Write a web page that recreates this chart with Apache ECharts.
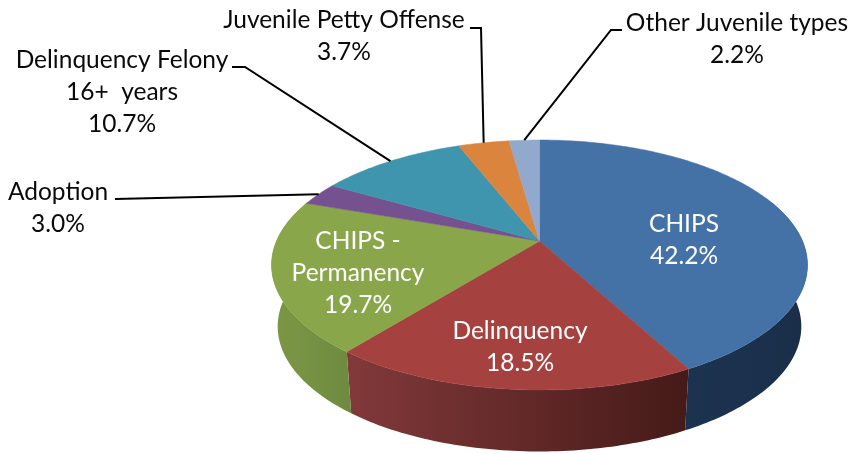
<!DOCTYPE html>
<html>
<head>
<meta charset="utf-8">
<script src="https://cdn.jsdelivr.net/npm/echarts@6/dist/echarts.min.js"></script>
<style>
html, body {margin: 0; padding: 0; background: #fff;}
#main {width: 850px; height: 454px;}
</style>
</head>
<body>
<div id="main"></div>
<script>
// chart data, clockwise from 12 o'clock
const categories = ['CHIPS', 'Delinquency', 'CHIPS -\nPermanency', 'Adoption',
    'Delinquency Felony\n16+  years', 'Juvenile Petty Offense', 'Other Juvenile types'];
const shares = [42.2, 18.5, 19.7, 3.0, 10.7, 3.7, 2.2];

const topColors = ['#4471a6', '#a5423f', '#8aa64b', '#75528f', '#3f95ae', '#db843d', '#92a9ce'];
const sideColors = [
    ['#1c3350', '#1a2e49'],
    ['#82393a', '#451a18'],
    ['#7c9845', '#6e8a40'],
    ['#5a3f70', '#5a3f70'], ['#2f7085', '#2f7085'], ['#a6622c', '#a6622c'], ['#6f819d', '#6f819d']
];

// label placement: text centre, leader polyline start points
const labelLayout = [
    {x: 684, y: 240, fill: '#fff'},
    {x: 520, y: 347, fill: '#fff'},
    {x: 358, y: 273, fill: '#fff'},
    {x: 58, y: 208, fill: '#0a0a0a', leader: [[115, 199]]},
    {x: 122, y: 92, fill: '#0a0a0a', leader: [[232, 67], [245, 67]]},
    {x: 344, y: 36, fill: '#0a0a0a', leader: [[470, 28], [481, 28]]},
    {x: 737, y: 39, fill: '#0a0a0a', leader: [[622, 30], [611, 30]]}
];

// tilted disc: perspective mapping of the unit circle, the hub sits above the ellipse centre
const cx = 539.5, hubY = 241, persp = 0.192, tilt = 74.1, scaleX = 263;

function topPoint(deg) {
    const a = deg * Math.PI / 180;
    const X = Math.sin(a), Y = Math.cos(a);
    const d = 1 + persp * Y;
    return [cx + scaleX * X / d, (hubY - tilt * Y) / d];
}

function bottomPoint(deg) {
    const p = topPoint(deg);
    return [cx + (p[0] - cx) * 0.977, p[1] + 61.5];
}

function arc(fn, from, to) {
    const pts = [];
    const n = Math.max(2, Math.ceil(Math.abs(to - from)));
    for (let i = 0; i <= n; i++) {
        pts.push(fn(from + (to - from) * i / n));
    }
    return pts;
}

const total = shares.reduce((s, v) => s + v, 0);

function renderSlice(params, api) {
    const idx = params.dataIndex;
    let before = 0;
    for (let i = 0; i < idx; i++) before += shares[i];
    const start = before / total * 360;
    const end = start + api.value(0) / total * 360;
    const mid = (start + end) / 2;
    const layout = labelLayout[idx];
    const children = [];

    // side wall, only the part facing us
    const from = Math.max(start, 70), to = Math.min(end, 290);
    if (to > from) {
        const upper = arc(topPoint, from, to);
        const lower = arc(bottomPoint, from, to).reverse();
        const xs = upper.concat(lower).map(p => p[0]);
        const x0 = Math.min.apply(null, xs), x1 = Math.max.apply(null, xs);
        children.push({
            type: 'polygon',
            z2: 1,
            shape: {points: upper.concat(lower)},
            style: {
                fill: new echarts.graphic.LinearGradient(x0, 0, x1, 0, [
                    {offset: 0, color: sideColors[idx][0]},
                    {offset: 1, color: sideColors[idx][1]}
                ], true)
            }
        });
    }

    // top face
    children.push({
        type: 'polygon',
        z2: 5,
        shape: {points: [[cx, hubY]].concat(arc(topPoint, start, end))},
        style: {fill: topColors[idx], stroke: topColors[idx], lineWidth: 0.5}
    });

    if (layout.leader) {
        children.push({
            type: 'polyline',
            z2: 8,
            shape: {points: layout.leader.concat([topPoint(mid)])},
            style: {fill: null, stroke: '#000', lineWidth: 2}
        });
    }

    children.push({
        type: 'text',
        z2: 10,
        style: {
            text: categories[idx] + '\n' + api.value(0).toFixed(1) + '%',
            x: layout.x,
            y: layout.y,
            fill: layout.fill,
            font: '24.5px Lato, "Noto Sans", sans-serif',
            align: 'center',
            verticalAlign: 'middle',
            lineHeight: 32
        }
    });
    return {type: 'group', children: children};
}

const chart = echarts.init(document.getElementById('main'));
chart.setOption({
    animation: false,
    backgroundColor: '#fff',
    series: [{
        type: 'custom',
        coordinateSystem: 'none',
        renderItem: renderSlice,
        data: shares.map((v, i) => ({name: categories[i], value: [v]}))
    }]
});
</script>
</body>
</html>
